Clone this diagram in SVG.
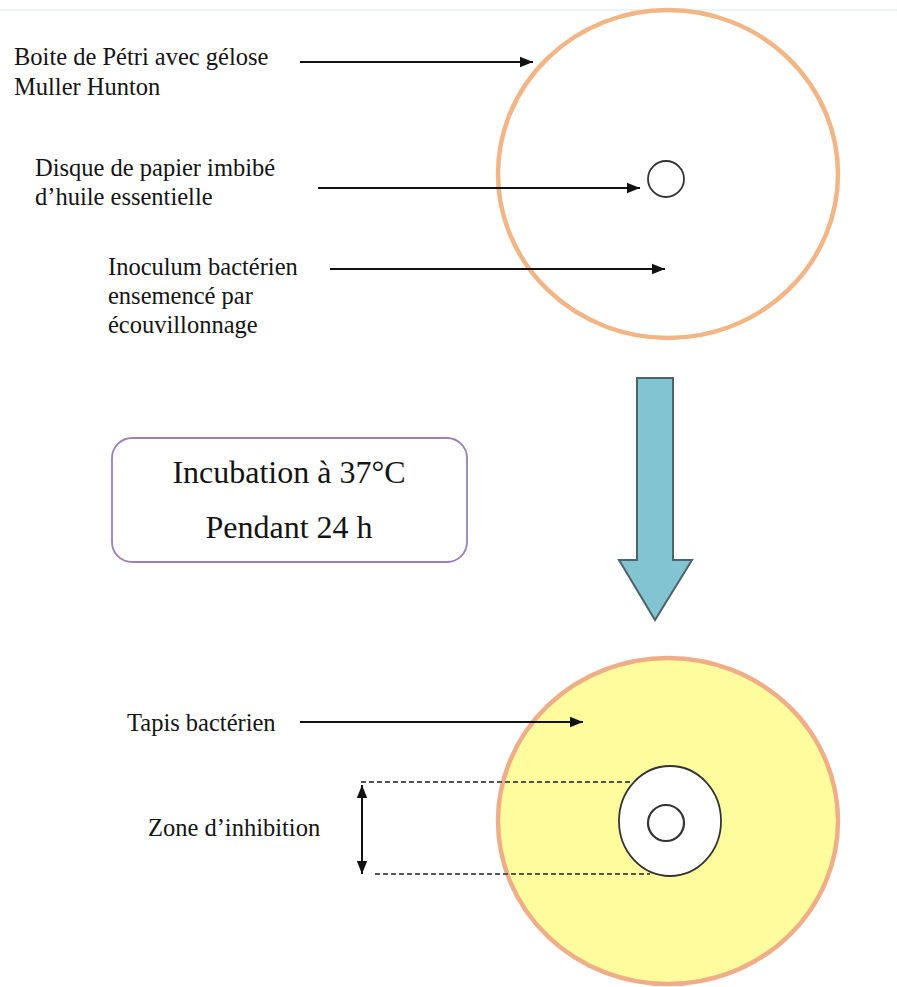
<svg xmlns="http://www.w3.org/2000/svg" width="897" height="987" viewBox="0 0 897 987">
<style>
.lbl{font-family:"Liberation Serif","Times New Roman",serif;font-size:24.5px;fill:#141414}
.box{font-family:"Liberation Serif","Times New Roman",serif;font-size:32px;fill:#141414;text-anchor:middle}
.ptr{stroke:#111;stroke-width:2;fill:none}
.dash{stroke:#555;stroke-width:1.8;stroke-dasharray:5,3;fill:none}
</style>
<defs>
<marker id="ah" viewBox="0 0 10 10" refX="10" refY="5" markerWidth="6.5" markerHeight="6.5" markerUnits="strokeWidth" orient="auto-start-reverse">
<path d="M0,1 L10,5 L0,9 z" fill="#111"/>
</marker>
</defs>
<rect width="897" height="987" fill="#fff"/>
<line x1="0" y1="10" x2="897" y2="10" stroke="#e4f2ef" stroke-width="1.5"/>
<g id="petri-top">
<ellipse cx="668" cy="174" rx="170" ry="164" fill="none" stroke="#F2B585" stroke-width="4.5"/>
<circle id="disc-top" cx="666" cy="179" r="18" fill="#fff" stroke="#333" stroke-width="1.8"/>
</g>
<g id="label-boite">
<text class="lbl" x="14" y="65">Boite de Pétri avec gélose</text>
<text class="lbl" x="14" y="95">Muller Hunton</text>
</g>
<g id="label-disque">
<text class="lbl" x="35" y="176">Disque de papier imbibé</text>
<text class="lbl" x="35" y="205">d’huile essentielle</text>
</g>
<g id="label-inoculum">
<text class="lbl" x="108" y="275">Inoculum bactérien</text>
<text class="lbl" x="108" y="304">ensemencé par</text>
<text class="lbl" x="108" y="333">écouvillonnage</text>
</g>
<g id="incubation">
<rect x="112" y="438" width="355" height="124" rx="20" ry="20" fill="#fff" stroke="#9B7FB8" stroke-width="1.8"/>
<text class="box" x="289" y="483">Incubation à 37°C</text>
<text class="box" x="289" y="538">Pendant 24 h</text>
</g>
<g id="big-arrow">
<path d="M637,378 L673,378 L673,560 L692,560 L655,620 L619,560 L637,560 Z" fill="#83C4D3" stroke="#4B6468" stroke-width="2" stroke-linejoin="miter"/>
</g>
<g id="petri-bottom">
<ellipse cx="668" cy="821" rx="170" ry="163" fill="#FFFC9E" stroke="#EFAE88" stroke-width="4.5"/>
<ellipse id="zone" cx="670" cy="821" rx="51" ry="55" fill="#fff" stroke="#333" stroke-width="1.8"/>
<circle id="disc-bottom" cx="666" cy="823" r="18" fill="#fff" stroke="#333" stroke-width="2.2"/>
</g>
<g id="label-tapis">
<text class="lbl" x="127" y="731">Tapis bactérien</text>
</g>
<g id="label-zone">
<text class="lbl" x="148" y="836">Zone d’inhibition</text>
</g>
<g id="connectors">
<line class="ptr" x1="300" y1="62" x2="533" y2="62" marker-end="url(#ah)"/>
<line class="ptr" x1="318" y1="188" x2="640" y2="188" marker-end="url(#ah)"/>
<line class="ptr" x1="330" y1="269" x2="665" y2="269" marker-end="url(#ah)"/>
<line class="ptr" x1="300" y1="722" x2="583" y2="722" marker-end="url(#ah)"/>
<line class="dash" x1="361" y1="782" x2="634" y2="782"/>
<line class="dash" x1="375" y1="874" x2="650" y2="874"/>
<line class="ptr" x1="362" y1="785" x2="362" y2="874" marker-start="url(#ah)" marker-end="url(#ah)"/>
</g>
</svg>
